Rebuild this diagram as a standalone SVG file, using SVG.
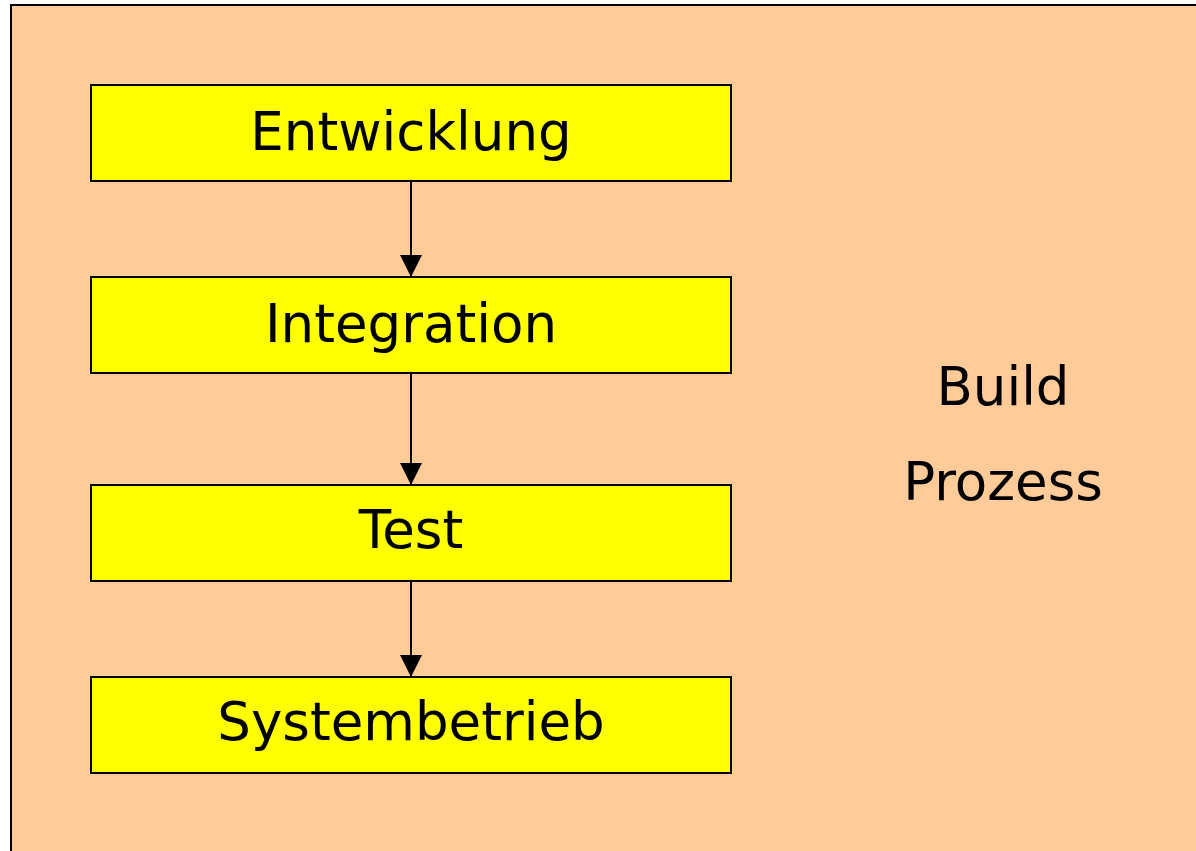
<svg xmlns="http://www.w3.org/2000/svg" width="1196" height="851" viewBox="0 0 1196 851">
<style>
.box{fill:#FFFF00;stroke:#000;stroke-width:2}
.lbl{font-family:"DejaVu Sans",Verdana,sans-serif;font-size:53px;fill:#000;text-anchor:middle}
.con{stroke:#000;stroke-width:2;fill:none}
</style>
<defs>
<marker id="ah" markerUnits="userSpaceOnUse" markerWidth="22" markerHeight="22" refX="21" refY="11" orient="auto" viewBox="0 0 22 22">
<path d="M0,0 L22,11 L0,22 Z" fill="#000"/>
</marker>
</defs>
<rect x="0" y="0" width="1196" height="851" fill="#fff"/>
<rect x="11" y="5" width="1200" height="860" fill="#FFCC99" stroke="#000" stroke-width="2"/>
<g id="connectors">
<line class="con" x1="411" y1="181" x2="411" y2="276" marker-end="url(#ah)"/>
<line class="con" x1="411" y1="373" x2="411" y2="484" marker-end="url(#ah)"/>
<line class="con" x1="411" y1="581" x2="411" y2="676" marker-end="url(#ah)"/>
</g>
<g id="entwicklung"><rect class="box" x="91" y="85" width="640" height="96"/><text class="lbl" x="411" y="150">Entwicklung</text></g>
<g id="integration"><rect class="box" x="91" y="277" width="640" height="96"/><text class="lbl" x="411" y="342">Integration</text></g>
<g id="test"><rect class="box" x="91" y="485" width="640" height="96"/><text class="lbl" x="411" y="548">Test</text></g>
<g id="systembetrieb"><rect class="box" x="91" y="677" width="640" height="96"/><text class="lbl" x="411" y="740">Systembetrieb</text></g>
<g id="build-label"><text class="lbl" x="1003" y="405">Build</text><text class="lbl" x="1003" y="500">Prozess</text></g>
</svg>
